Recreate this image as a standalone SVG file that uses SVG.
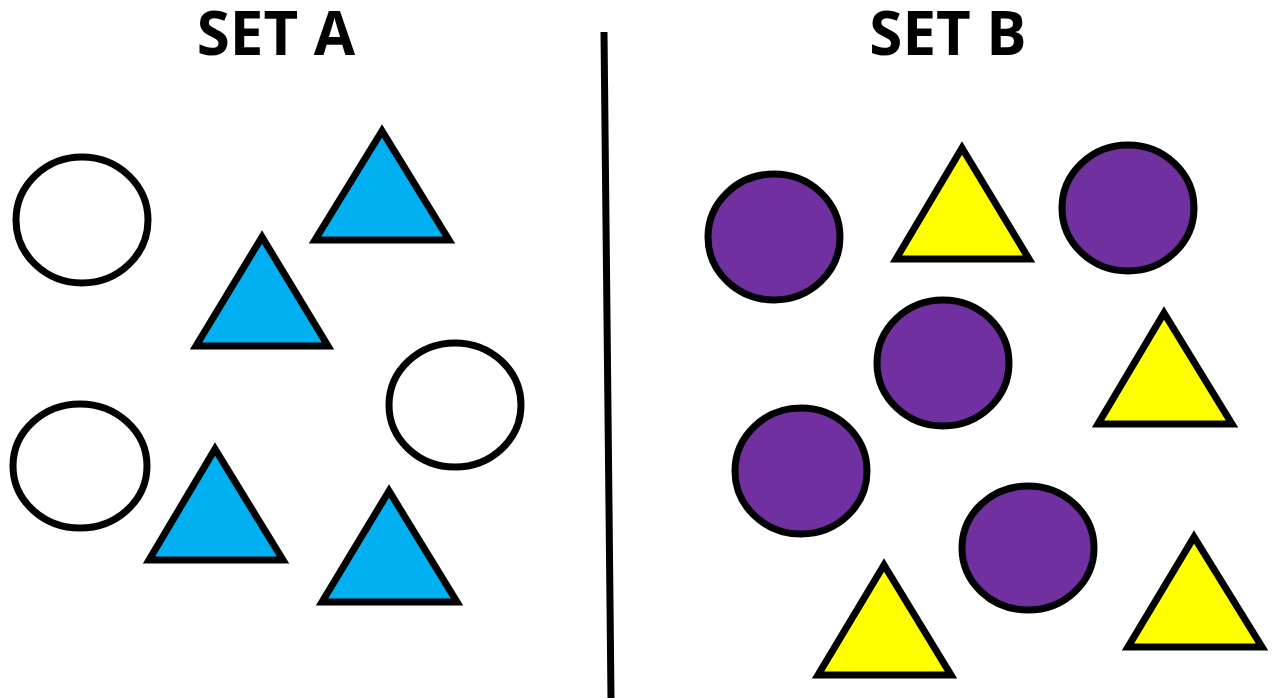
<svg xmlns="http://www.w3.org/2000/svg" width="1273" height="698" viewBox="0 0 1273 698">
<style>
.t{font-family:"Open Sans","Liberation Sans",sans-serif;font-weight:bold;font-size:60px;fill:#000;text-anchor:middle}
.w{fill:#fff;stroke:#000;stroke-width:7}
.p{fill:#7030a0;stroke:#000;stroke-width:7}
.b{fill:#00b0f0;stroke:#000;stroke-width:7;stroke-linejoin:miter}
.y{fill:#ffff00;stroke:#000;stroke-width:7;stroke-linejoin:miter}
</style>
<rect width="1273" height="698" fill="#fff"/>
<g id="titles">
<text class="t" x="276" y="55">SET A</text>
<text class="t" x="948" y="55">SET B</text>
</g>
<g id="divider"><line x1="604" y1="32" x2="611" y2="698" stroke="#000" stroke-width="7"/></g>
<g id="setA">
<ellipse id="a-c1" class="w" cx="82" cy="220" rx="66" ry="63"/>
<ellipse id="a-c2" class="w" cx="455" cy="405" rx="66" ry="62"/>
<ellipse id="a-c3" class="w" cx="80" cy="466" rx="67" ry="62"/>
<polygon id="a-t1" class="b" points="382,131 315,240 449,240"/>
<polygon id="a-t2" class="b" points="262,237 196,346 328,346"/>
<polygon id="a-t3" class="b" points="215,449 149,560 283,560"/>
<polygon id="a-t4" class="b" points="389,491 322,602 457,602"/>
</g>
<g id="setB">
<ellipse id="b-c1" class="p" cx="774" cy="237" rx="66" ry="63"/>
<ellipse id="b-c2" class="p" cx="1128" cy="208" rx="66" ry="63"/>
<ellipse id="b-c3" class="p" cx="943" cy="363" rx="66" ry="63"/>
<ellipse id="b-c4" class="p" cx="801" cy="471" rx="66" ry="63"/>
<ellipse id="b-c5" class="p" cx="1028" cy="548" rx="66" ry="62"/>
<polygon id="b-t1" class="y" points="962,148 896,259 1029,259"/>
<polygon id="b-t2" class="y" points="1164,313 1098,424 1232,424"/>
<polygon id="b-t3" class="y" points="884,565 818,675 951,675"/>
<polygon id="b-t4" class="y" points="1194,537 1128,647 1262,647"/>
</g>
</svg>
